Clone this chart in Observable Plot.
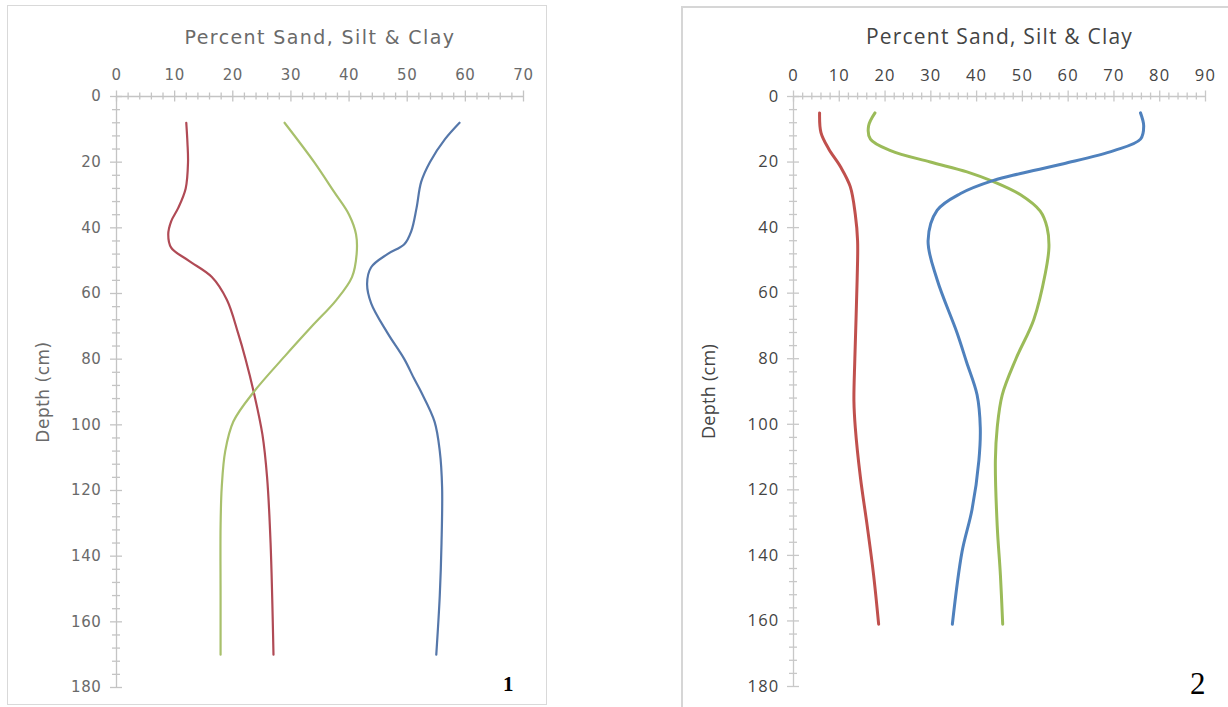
<!DOCTYPE html>
<html><head><meta charset="utf-8">
<script src="https://cdn.jsdelivr.net/npm/d3@7"></script>
<script src="https://cdn.jsdelivr.net/npm/@observablehq/plot@0.6"></script>
<style>
body{margin:0;background:#fff;width:1228px;height:707px;overflow:hidden;position:relative}
.box{position:absolute;box-sizing:border-box}
#b1{left:7px;top:5px;width:540px;height:700px;border:1.5px solid #d9d9d9}
#b2{left:681px;top:6px;width:560px;height:720px;border:2px solid #d6d6d6}
.plot{position:absolute;top:0}
#c1{left:0}
#c2{left:670px}
#c1 g[aria-label="x-axis tick label"] text,#c1 g[aria-label="y-axis tick label"] text{font-size:15px;letter-spacing:0.6px}
#c1 g[aria-label="x-axis label"] text{font-size:19px;letter-spacing:1.4px}
#c1 g[aria-label="y-axis label"] text{font-size:17px;letter-spacing:0.5px}
#c2 g[aria-label="x-axis tick label"] text,#c2 g[aria-label="y-axis tick label"] text{font-size:16.5px;letter-spacing:1.2px}
#c2 g[aria-label="x-axis label"] text{font-size:21px;letter-spacing:1.2px}
#c2 g[aria-label="y-axis label"] text{font-size:18px;letter-spacing:0.3px}
.num{position:absolute;font-family:"Liberation Serif",serif;color:#000}
</style></head>
<body>
<div class="box" id="b1"></div>
<div class="box" id="b2"></div>
<div class="plot" id="c1"></div>
<div class="plot" id="c2"></div>
<div class="num" id="n1" style="left:503px;top:672px;font-size:21px;font-weight:bold">1</div>
<div class="num" id="n2" style="left:1190px;top:666px;font-size:31px">2</div>
<script>
// ---------- Panel 1 data ----------
const p1XTicks = [0, 10, 20, 30, 40, 50, 60, 70];
const p1YTicks = [0, 20, 40, 60, 80, 100, 120, 140, 160, 180];
const p1ClayDepth = [8, 14, 20, 28, 34, 38, 42, 46, 50, 55, 62, 72, 80, 90, 103, 116, 136, 170];
const p1Clay      = [12.0, 12.2, 12.3, 11.9, 10.6, 9.4, 8.9, 9.4, 12.4, 16.4, 19.0, 20.9, 22.2, 23.6, 25.1, 25.9, 26.5, 27.0];
const p1SiltDepth = [8, 20, 29, 36, 42, 48, 55, 62, 70, 79, 90, 99, 108, 119, 131, 152, 170];
const p1Silt      = [28.9, 34.0, 37.4, 40.0, 41.2, 41.3, 40.5, 37.8, 33.6, 29.0, 23.6, 20.1, 18.7, 18.1, 17.9, 17.9, 17.9];
const p1SandDepth = [8, 13, 20, 26, 34, 41, 45, 48, 52, 57, 63, 72, 80, 86, 90, 99, 108, 119, 136, 152, 170];
const p1Sand      = [59.0, 56.5, 53.9, 52.4, 51.6, 50.7, 49.5, 46.6, 43.8, 43.1, 43.8, 46.6, 49.5, 51.2, 52.4, 54.7, 55.6, 56.0, 55.9, 55.6, 55.0];

// ---------- Panel 2 data ----------
const p2XTicks = [0, 10, 20, 30, 40, 50, 60, 70, 80, 90];
const p2YTicks = [0, 20, 40, 60, 80, 100, 120, 140, 160, 180];
const p2ClayDepth = [5, 11, 16, 21.5, 27.5, 36, 44, 56, 80, 93, 101, 116, 131, 146, 161];
const p2Clay      = [5.7, 6.0, 7.7, 10.3, 12.4, 13.5, 14.0, 13.9, 13.4, 13.2, 13.5, 14.6, 16.1, 17.5, 18.6];
const p2SiltDepth = [5, 9, 13, 16.5, 20, 23, 26, 30, 35, 40, 46, 54, 68, 80, 91, 101, 111, 131, 146, 161];
const p2Silt      = [17.8, 16.4, 16.8, 21.2, 29.9, 37.9, 43.7, 49.6, 53.9, 55.4, 55.8, 55.0, 52.5, 48.6, 45.6, 44.5, 44.1, 44.5, 45.2, 45.7];
const p2SandDepth = [5, 9, 13, 16.5, 20.5, 23.5, 25.6, 29.6, 34.7, 44, 56, 72, 81, 91, 101, 111, 126, 139, 161];
const p2Sand      = [75.8, 76.5, 75.8, 70.0, 59.0, 49.6, 43.7, 36.5, 31.4, 29.4, 31.4, 35.7, 37.8, 40.1, 40.8, 40.5, 39.0, 36.8, 34.7];

const titleText = "Percent Sand, Silt & Clay";
const yLabelText = "Depth (cm)";

function rows(depth, vals) { return depth.map((d, i) => ({depth: d, value: vals[i]})); }

function panel(o) {
  const xMax = o.xTicks[o.xTicks.length - 1];
  const yMax = o.yTicks[o.yTicks.length - 1];
  const minorX = d3.range(0, xMax + 0.001, o.xMinor).filter(v => !o.xTicks.includes(v));
  const minorY = d3.range(0, yMax + 0.001, o.yMinor).filter(v => !o.yTicks.includes(v));
  const tick = {stroke: o.tickColor, strokeWidth: 1.3};
  const marks = [
    Plot.ruleY([0], {x1: 0, x2: xMax, ...tick}),
    Plot.ruleX([0], {y1: 0, y2: yMax, ...tick}),
    Plot.ruleX(minorX, {x: d => d, y1: 0, y2: 0, insetTop: -3.5, insetBottom: -3.5, ...tick}),
    Plot.ruleX(o.xTicks, {x: d => d, y1: 0, y2: 0, insetTop: -5.5, insetBottom: -5.5, ...tick}),
    Plot.ruleY(minorY, {y: d => d, x1: 0, x2: 0, insetLeft: -4, insetRight: -4, ...tick}),
    Plot.ruleY(o.yTicks, {y: d => d, x1: 0, x2: 0, insetLeft: -6, insetRight: -6, ...tick}),
    Plot.axisX({anchor: "top", ticks: o.xTicks, tickSize: 0, tickPadding: o.xPad, tickFormat: d => String(d),
      label: titleText, labelAnchor: "center", labelArrow: "none", labelOffset: o.titleOffset}),
    Plot.axisY({anchor: "left", ticks: o.yTicks, tickSize: 0, tickPadding: o.yPad, tickFormat: d => String(d),
      label: yLabelText, labelAnchor: "center", labelArrow: "none", labelOffset: o.yLabelOffset}),
  ];
  for (const s of o.series) {
    marks.push(Plot.line(s.data, {x: "value", y: "depth", stroke: s.color, strokeWidth: o.lw, curve: "catmull-rom"}));
  }
  return Plot.plot({
    width: o.width, height: o.height,
    marginLeft: o.ml, marginRight: o.mr, marginTop: o.mt, marginBottom: o.mb,
    x: {domain: [0, xMax]},
    y: {domain: [0, yMax], reverse: true},
    style: {fontFamily: o.font, fontSize: o.fontSize + "px", color: o.textColor, background: "transparent", overflow: "visible"},
    marks
  });
}

document.getElementById("c1").append(panel({
  width: 560, height: 707, ml: 116, mr: 37, mt: 96, mb: 20,
  xTicks: p1XTicks, yTicks: p1YTicks, xMinor: 2, yMinor: 4,
  font: "DejaVu Sans", fontSize: 15, textColor: "#6a6a6a", tickColor: "#c4c4c4",
  xPad: 17, yPad: 15, titleOffset: 66, yLabelOffset: 80, lw: 2.2,
  series: [
    {data: rows(p1ClayDepth, p1Clay), color: "#b04a55"},
    {data: rows(p1SiltDepth, p1Silt), color: "#a8c06c"},
    {data: rows(p1SandDepth, p1Sand), color: "#5577aa"},
  ]
}));

document.getElementById("c2").append(panel({
  width: 558, height: 707, ml: 123, mr: 23, mt: 96, mb: 21,
  xTicks: p2XTicks, yTicks: p2YTicks, xMinor: 2, yMinor: 4,
  font: "Open Sans", fontSize: 16.5, textColor: "#444444", tickColor: "#c8c8c8",
  xPad: 16, yPad: 14, titleOffset: 67, yLabelOffset: 91, lw: 3,
  series: [
    {data: rows(p2ClayDepth, p2Clay), color: "#c0504d"},
    {data: rows(p2SiltDepth, p2Silt), color: "#9bbb59"},
    {data: rows(p2SandDepth, p2Sand), color: "#4f81bd"},
  ]
}));
</script>
</body></html>
